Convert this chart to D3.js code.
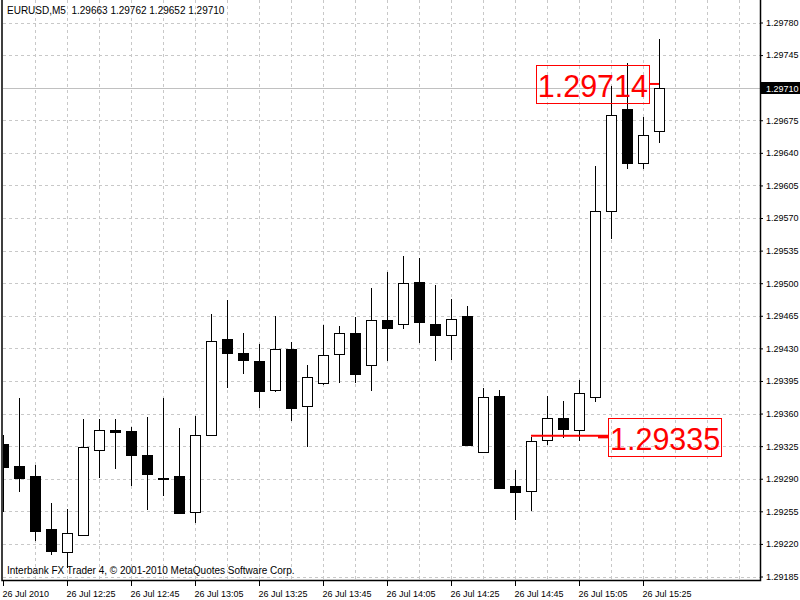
<!DOCTYPE html>
<html>
<head>
<meta charset="utf-8">
<script src="https://cdn.jsdelivr.net/npm/d3@7"></script>
<style>
  body { margin: 0; background: #fff; }
  svg { display: block; font-family: 'Liberation Sans', Arial, sans-serif; }
</style>
</head>
<body>
<div id="chart"></div>
<script>
const symbol = 'EURUSD,M5'
const footer = 'Interbank FX Trader 4, \u00a9 2001-2010 MetaQuotes Software Corp.'

const times = [
  '12:05', '12:10', '12:15', '12:20', '12:25', '12:30', '12:35', '12:40', '12:45', '12:50', '12:55',
  '13:00', '13:05', '13:10', '13:15', '13:20', '13:25', '13:30', '13:35', '13:40', '13:45', '13:50', '13:55',
  '14:00', '14:05', '14:10', '14:15', '14:20', '14:25', '14:30', '14:35', '14:40', '14:45', '14:50', '14:55',
  '15:00', '15:05', '15:10', '15:15', '15:20', '15:25', '15:30',
]

const opens = [
  1.29327, 1.29304, 1.29293, 1.29236, 1.29211, 1.29230, 1.29321, 1.29342, 1.29341, 1.29315, 1.29291,
  1.29293, 1.29254, 1.29337, 1.29440, 1.29425, 1.29416, 1.29385, 1.29429, 1.29368, 1.29393, 1.29424,
  1.29446, 1.29412, 1.29460, 1.29456, 1.29501, 1.29456, 1.29444, 1.29465, 1.29319, 1.29379, 1.29282,
  1.29277, 1.29332, 1.29355, 1.29342, 1.29378, 1.29578, 1.29687, 1.29629, 1.29663,
]
const highs = [
  1.29337, 1.29377, 1.29305, 1.29264, 1.29257, 1.29354, 1.29354, 1.29354, 1.29346, 1.29356, 1.29377,
  1.29344, 1.29357, 1.29467, 1.29482, 1.29446, 1.29435, 1.29465, 1.29437, 1.29412, 1.29455, 1.29454,
  1.29464, 1.29495, 1.29512, 1.29529, 1.29527, 1.29498, 1.29483, 1.29476, 1.29387, 1.29385, 1.29299,
  1.29335, 1.29379, 1.29373, 1.29396, 1.29626, 1.29712, 1.29736, 1.29679, 1.29762,
]
const lows = [
  1.29255, 1.29277, 1.29224, 1.29209, 1.29195, 1.29230, 1.29292, 1.29302, 1.29283, 1.29257, 1.29273,
  1.29253, 1.29244, 1.29337, 1.29388, 1.29404, 1.29367, 1.29384, 1.29353, 1.29325, 1.29392, 1.29394,
  1.29394, 1.29385, 1.29417, 1.29452, 1.29437, 1.29417, 1.29419, 1.29326, 1.29319, 1.29280, 1.29247,
  1.29256, 1.29327, 1.29335, 1.29332, 1.29374, 1.29549, 1.29624, 1.29624, 1.29652,
]
const closes = [
  1.29303, 1.29291, 1.29234, 1.29212, 1.29232, 1.29324, 1.29342, 1.29340, 1.29315, 1.29295, 1.29290,
  1.29253, 1.29337, 1.29438, 1.29425, 1.29418, 1.29384, 1.29429, 1.29366, 1.29399, 1.29423, 1.29446,
  1.29403, 1.29460, 1.29452, 1.29500, 1.29458, 1.29444, 1.29462, 1.29326, 1.29378, 1.29280, 1.29276,
  1.29331, 1.29355, 1.29343, 1.29382, 1.29578, 1.29681, 1.29629, 1.29659, 1.29710,
]

const priceTicks = [
  1.29185, 1.29220, 1.29255, 1.29290, 1.29325, 1.29360, 1.29395, 1.29430, 1.29465,
  1.29500, 1.29535, 1.29570, 1.29605, 1.29640, 1.29675, 1.29710, 1.29745, 1.29780,
]

const timeTicks = ['12:05', '12:25', '12:45', '13:05', '13:25', '13:45', '14:05', '14:25', '14:45', '15:05', '15:25']
const timeTickLabels = [
  '26 Jul 2010', '26 Jul 12:25', '26 Jul 12:45', '26 Jul 13:05', '26 Jul 13:25', '26 Jul 13:45',
  '26 Jul 14:05', '26 Jul 14:25', '26 Jul 14:45', '26 Jul 15:05', '26 Jul 15:25',
]

const bidPrice = 1.29710
const noteHigh = 1.29714
const noteLow = 1.29335

const width = 800
const height = 600
const plot = { left: 3, right: 760, top: 0, bottom: 580 }
const fmt = d3.format('.5f')
const px = (v) => Math.round(v) + 0.5

const bars = times.map((t, i) => ({
  time: t,
  open: opens[i],
  high: highs[i],
  low: lows[i],
  close: closes[i],
}))

const svg = d3
  .select('#chart')
  .append('svg')
  .attr('width', width)
  .attr('height', height)

svg
  .append('defs')
  .append('clipPath')
  .attr('id', 'plot-clip')
  .append('rect')
  .attr('x', plot.left)
  .attr('y', plot.top)
  .attr('width', plot.right - plot.left)
  .attr('height', plot.bottom - plot.top)

// scales
const x = d3
  .scalePoint()
  .domain(times)
  .range([3, 659])

const xIndex = d3
  .scaleLinear()
  .domain([0, times.length - 1])
  .range([3, 659])

const y = d3
  .scaleLinear()
  .domain([1.29185, 1.29780])
  .range([576.5, 22.5])

const body = svg.append('g').attr('clip-path', 'url(#plot-clip)')

// grid
const gridSlots = d3.range(2, 60, 2).filter((i) => xIndex(i) < plot.right)

body
  .append('g')
  .selectAll('line')
  .data(gridSlots)
  .join('line')
  .attr('x1', (i) => px(xIndex(i)))
  .attr('x2', (i) => px(xIndex(i)))
  .attr('y1', plot.top)
  .attr('y2', plot.bottom)
  .attr('stroke', '#c8c8c8')
  .attr('stroke-dasharray', '3,3')

body
  .append('g')
  .selectAll('line')
  .data(priceTicks)
  .join('line')
  .attr('x1', plot.left)
  .attr('x2', plot.right)
  .attr('y1', (d) => px(y(d)))
  .attr('y2', (d) => px(y(d)))
  .attr('stroke', '#c8c8c8')
  .attr('stroke-dasharray', '3,3')

// bid line
body
  .append('line')
  .attr('x1', plot.left)
  .attr('x2', plot.right)
  .attr('y1', px(y(bidPrice)))
  .attr('y2', px(y(bidPrice)))
  .attr('stroke', '#c0c0c0')

// candles
const candles = body
  .append('g')
  .selectAll('g')
  .data(bars)
  .join('g')

candles
  .append('line')
  .attr('x1', (d) => Math.round(x(d.time)) + 0.5)
  .attr('x2', (d) => Math.round(x(d.time)) + 0.5)
  .attr('y1', (d) => Math.round(y(d.high)))
  .attr('y2', (d) => Math.round(y(d.low)) + 1)
  .attr('stroke', '#000')

candles
  .append('rect')
  .attr('x', (d) => Math.round(x(d.time)) - 4.5)
  .attr('width', 10)
  .attr('y', (d) => px(y(Math.max(d.open, d.close))))
  .attr('height', (d) =>
    Math.max(1, Math.round(y(Math.min(d.open, d.close))) - Math.round(y(Math.max(d.open, d.close))))
  )
  .attr('fill', (d) => (d.close >= d.open ? '#fff' : '#000'))
  .attr('stroke', '#000')

// red price labels
const notes = body.append('g')

const highY = y(noteHigh)
const highText = notes
  .append('text')
  .attr('x', x('15:30') - 11)
  .attr('y', highY + 13)
  .attr('text-anchor', 'end')
  .attr('fill', '#ff0000')
  .style('font-size', '30.5px')
  .text(fmt(noteHigh))
const hb = highText.node().getBBox()
notes
  .append('rect')
  .attr('x', Math.round(hb.x - 2) + 0.5)
  .attr('y', Math.round(highY - 19) + 0.5)
  .attr('width', Math.round(hb.width + 3))
  .attr('height', 38)
  .attr('fill', 'none')
  .attr('stroke', '#ff0000')
notes
  .append('line')
  .attr('x1', Math.round(hb.x + hb.width + 1))
  .attr('x2', x('15:30'))
  .attr('y1', highY)
  .attr('y2', highY)
  .attr('stroke', '#ff0000')
  .attr('stroke-width', 2)

const lowY = y(noteLow)
const lowText = notes
  .append('text')
  .attr('x', x('15:15') - 1)
  .attr('y', lowY + 13)
  .attr('fill', '#ff0000')
  .style('font-size', '30.5px')
  .text(fmt(noteLow))
const lb = lowText.node().getBBox()
notes
  .append('rect')
  .attr('x', Math.round(lb.x - 2) + 0.5)
  .attr('y', Math.round(lowY - 19) + 0.5)
  .attr('width', Math.round(lb.width + 3))
  .attr('height', 38)
  .attr('fill', 'none')
  .attr('stroke', '#ff0000')
notes
  .append('line')
  .attr('x1', x('14:50'))
  .attr('x2', Math.round(lb.x - 2))
  .attr('y1', lowY - 1)
  .attr('y2', lowY - 1)
  .attr('stroke', '#ff0000')
  .attr('stroke-width', 2)
notes
  .append('line')
  .attr('x1', Math.round(lb.x - 12))
  .attr('x2', Math.round(lb.x - 2))
  .attr('y1', lowY)
  .attr('y2', lowY)
  .attr('stroke', '#ff0000')
  .attr('stroke-width', 3)

// texts in plot
svg
  .append('text')
  .attr('x', 7)
  .attr('y', 14)
  .attr('xml:space', 'preserve')
  .style('font-size', '10px')
  .text(`${symbol}  ${fmt(opens[41])} ${fmt(highs[41])} ${fmt(lows[41])} ${fmt(closes[41])}`)

svg
  .append('text')
  .attr('x', 7)
  .attr('y', 574)
  .style('font-size', '10px')
  .text(footer)

// frame
svg
  .append('path')
  .attr('d', `M2,0 V${plot.bottom + 0.5} H${plot.right + 0.5} V0`)
  .attr('fill', 'none')
  .attr('stroke', '#000')
  .attr('stroke-width', 1.5)

// y axis
const yAxis = svg
  .append('g')
  .attr('transform', `translate(${plot.right}, 0)`)
  .call(d3.axisRight(y).tickValues(priceTicks).tickFormat(fmt).tickSize(3).tickPadding(3))

yAxis.select('.domain').remove()
yAxis.selectAll('text').style('font-size', '9px').attr('fill', '#000')

// bid tag
svg
  .append('rect')
  .attr('x', plot.right + 1)
  .attr('y', Math.round(y(bidPrice)) - 6)
  .attr('width', 39)
  .attr('height', 12)
  .attr('fill', '#000')
svg
  .append('text')
  .attr('x', plot.right + 6)
  .attr('y', Math.round(y(bidPrice)) + 3.5)
  .attr('fill', '#fff')
  .style('font-size', '9px')
  .text(fmt(bidPrice))

// x axis
const xAxis = svg
  .append('g')
  .attr('transform', `translate(0, ${plot.bottom})`)
  .call(
    d3
      .axisBottom(x)
      .tickValues(timeTicks)
      .tickFormat((t) => timeTickLabels[timeTicks.indexOf(t)])
      .tickSize(6)
      .tickPadding(5)
  )

xAxis.select('.domain').remove()
xAxis
  .selectAll('text')
  .attr('text-anchor', 'start')
  .attr('dx', -1)
  .style('font-size', '9px')
  .attr('fill', '#000')
</script>
</body>
</html>
